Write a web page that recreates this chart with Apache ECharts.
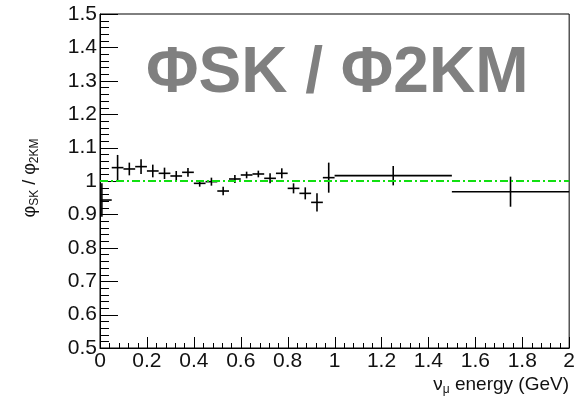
<!DOCTYPE html>
<html>
<head>
<meta charset="utf-8">
<script src="https://cdn.jsdelivr.net/npm/echarts@6/dist/echarts.min.js"></script>
<style>
html,body{margin:0;padding:0;background:#fff;}
#chart{width:578px;height:402px;}
</style>
</head>
<body>
<div id="chart"></div>
<script>
// ---- data ----
const binLow    = [0.00, 0.05, 0.10, 0.15, 0.20, 0.25, 0.30, 0.35, 0.40, 0.45, 0.50, 0.55, 0.60, 0.65, 0.70, 0.75, 0.80, 0.85, 0.90, 0.95, 1.00, 1.50];
const binHigh   = [0.05, 0.10, 0.15, 0.20, 0.25, 0.30, 0.35, 0.40, 0.45, 0.50, 0.55, 0.60, 0.65, 0.70, 0.75, 0.80, 0.85, 0.90, 0.95, 1.00, 1.50, 2.00];
const binCenter = [0.008, 0.075, 0.125, 0.175, 0.225, 0.275, 0.325, 0.375, 0.425, 0.475, 0.525, 0.575, 0.625, 0.675, 0.725, 0.775, 0.825, 0.875, 0.925, 0.975, 1.25, 1.75];
const ratio     = [0.943, 1.040, 1.036, 1.043, 1.030, 1.023, 1.015, 1.026, 0.993, 0.998, 0.970, 1.006, 1.018, 1.021, 1.008, 1.023, 0.978, 0.963, 0.936, 1.010, 1.016, 0.968];
const ratioErr  = [0.050, 0.038, 0.019, 0.022, 0.019, 0.017, 0.015, 0.013, 0.010, 0.012, 0.013, 0.012, 0.010, 0.010, 0.015, 0.015, 0.015, 0.018, 0.027, 0.045, 0.029, 0.045];
const refX = [0, 2];
const refY = [1, 1];
const xTickLabels = ['0','0.2','0.4','0.6','0.8','1','1.2','1.4','1.6','1.8','2'];
const yTickLabels = ['0.5','0.6','0.7','0.8','0.9','1','1.1','1.2','1.3','1.4','1.5'];
const overlayTitle = 'ΦSK / Φ2KM';

const X_MIN = 0, X_MAX = 2, X_STEP = 0.2;
const Y_MIN = 0.5, Y_MAX = 1.5, Y_STEP = 0.1;
const SUB = 5;

const pts = binCenter.map((c, i) => [c, ratio[i], binLow[i], binHigh[i], ratioErr[i]]);
const FONT = '"Liberation Sans", Arial, Helvetica, sans-serif';
const BLACK = {color: '#000', width: 1};

const textGraphics = [
  {
    type: 'text', x: 569, y: 375,
    style: {
      text: '{m|ν}{s|μ}{m| energy (GeV)}',
      align: 'right', verticalAlign: 'top',
      rich: {
        m: {fontSize: 19, fontFamily: FONT, fill: '#111', color: '#111', lineHeight: 21, verticalAlign: 'top'},
        s: {fontSize: 12, fontFamily: FONT, fill: '#111', color: '#111', lineHeight: 12, padding: [12, 0, 0, 0], verticalAlign: 'bottom'}
      }
    }
  },
  {
    type: 'text', x: 21, y: 178, rotation: Math.PI / 2,
    style: {
      text: '{m|φ}{s|SK}{m| / φ}{s|2KM}',
      align: 'center', verticalAlign: 'top',
      rich: {
        m: {fontSize: 18, fontFamily: FONT, fill: '#111', color: '#111', lineHeight: 20, verticalAlign: 'top'},
        s: {fontSize: 12, fontFamily: FONT, fill: '#111', color: '#111', lineHeight: 12, padding: [18, 0, 0, 0], verticalAlign: 'bottom'}
      }
    }
  }
];

const chart = echarts.init(document.getElementById('chart'), null, {renderer: 'canvas'});
chart.setOption({
  animation: false,
  title: {
    text: overlayTitle,
    left: 141, top: 37,
    textStyle: {fontSize: 64, fontWeight: 'bold', color: '#808080', fontFamily: FONT}
  },
  grid: {left: 100, right: 8, top: 14, bottom: 54, show: true, borderColor: '#000', borderWidth: 1, backgroundColor: 'transparent'},
  xAxis: {
    type: 'value', min: X_MIN, max: X_MAX, interval: X_STEP, position: 'bottom',
    axisLine: {show: true, onZero: false, lineStyle: BLACK},
    axisTick: {show: false},
    minorTick: {show: false},
    splitLine: {show: false},
    axisLabel: {fontSize: 21, color: '#111', fontFamily: FONT, margin: 3,
      formatter: (v) => xTickLabels[Math.round((v - X_MIN) / X_STEP)]}
  },
  yAxis: {
    type: 'value', min: Y_MIN, max: Y_MAX, interval: Y_STEP, position: 'left',
    axisLine: {show: true, onZero: false, lineStyle: BLACK},
    axisTick: {show: false},
    minorTick: {show: false},
    splitLine: {show: false},
    axisLabel: {fontSize: 21, color: '#111', fontFamily: FONT, margin: 3, padding: [3, 0, 0, 0],
      formatter: (v) => yTickLabels[Math.round((v - Y_MIN) / Y_STEP)]}
  },
  graphic: textGraphics,
  series: [
    {
      type: 'custom',
      data: pts,
      encode: {x: [0, 2, 3], y: [1]},
      z: 3,
      renderItem: function (params, api) {
        const x = api.value(0), y = api.value(1), lo = api.value(2), hi = api.value(3), e = api.value(4);
        const l = api.coord([lo, y]);
        const r = api.coord([hi, y]);
        const t = api.coord([x, y + e]);
        const b = api.coord([x, y - e]);
        const st = {stroke: '#000', lineWidth: 1.6};
        return {
          type: 'group',
          children: [
            {type: 'line', shape: {x1: l[0], y1: l[1], x2: r[0], y2: r[1]}, style: st},
            {type: 'line', shape: {x1: t[0], y1: t[1], x2: b[0], y2: b[1]}, style: st}
          ]
        };
      }
    },
    {
      type: 'line',
      data: refX.map((v, i) => [v, refY[i]]),
      symbol: 'none',
      z: 4,
      lineStyle: {color: '#11e011', width: 2, type: [8, 3, 2, 3]}
    }
  ]
});

// Inward axis ticks (ROOT style: 10 primary divisions, 5 secondary each),
// placed through the chart's own axis scales with convertToPixel.
const tickEls = [];
const finder = {xAxisIndex: 0, yAxisIndex: 0};
for (let i = 0; i <= 10 * SUB; i++) {
  const major = i % SUB === 0;
  const xv = X_MIN + i * X_STEP / SUB;
  const px = chart.convertToPixel(finder, [xv, Y_MIN]);
  const xx = Math.round(px[0]) + 0.5;
  tickEls.push({type: 'line', silent: true, shape: {x1: xx, y1: px[1], x2: xx, y2: px[1] - (major ? 11 : 5)},
    style: {stroke: '#000', lineWidth: 1}});
  const yv = Y_MIN + i * Y_STEP / SUB;
  const py = chart.convertToPixel(finder, [X_MIN, yv]);
  const yy = Math.round(py[1]) + 0.5;
  tickEls.push({type: 'line', silent: true, shape: {x1: py[0], y1: yy, x2: py[0] + (major ? 18 : 9), y2: yy},
    style: {stroke: '#000', lineWidth: 1}});
}
chart.setOption({
  graphic: textGraphics.concat([{type: 'group', z: 10, children: tickEls}])
});
</script>
</body>
</html>
